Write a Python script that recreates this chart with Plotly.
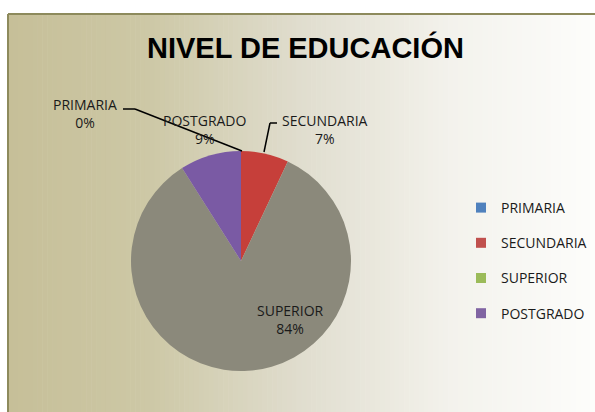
import plotly.graph_objects as go

W, H = 595, 412

# data
niveles = ["PRIMARIA", "SECUNDARIA", "SUPERIOR", "POSTGRADO"]
porcentajes = [0, 7, 84, 9]
colores_legenda = ["#4f81bd", "#c0504d", "#9bbb59", "#8064a2"]
colores_pie = ["#4f81bd", "#c63f3a", "#8b897b", "#7a5aa4"]


def px(x):
    return x / W


def py(y):
    return 1 - y / H


fig = go.Figure()

fig.add_trace(go.Pie(labels=niveles, values=porcentajes, sort=False,
                     direction="clockwise", rotation=0,
                     marker=dict(colors=colores_pie, line=dict(width=0)),
                     textinfo="none", showlegend=False, hoverinfo="label+percent",
                     domain=dict(x=[px(131), px(351)], y=[py(371), py(151)])))

# legend entries (square markers)
for i, (n, c) in enumerate(zip(niveles, colores_legenda)):
    fig.add_trace(go.Scatter(x=[None], y=[None], mode="markers", name=n,
                             legendgroup=n,
                             marker=dict(symbol="square", size=10, color=c)))

# background gradient, drawn as thin strips
stops = [(8, (198, 191, 152)), (150, (205, 200, 166)), (300, (224, 221, 206)),
         (450, (243, 242, 236)), (595, (253, 253, 251))]
shapes = []
n_strips = 120
x0 = 8
step = (W - x0) / n_strips
for k in range(n_strips):
    xa = x0 + k * step
    xm = xa + step / 2
    for (sa, ca), (sb, cb) in zip(stops[:-1], stops[1:]):
        if sa <= xm <= sb:
            t = (xm - sa) / (sb - sa)
            col = tuple(round(a + (b - a) * t) for a, b in zip(ca, cb))
            break
    shapes.append(dict(type="rect", xref="paper", yref="paper", layer="below",
                       x0=px(xa), x1=px(xa + step + 0.6), y0=0, y1=py(14),
                       line=dict(width=0), fillcolor="rgb(%d,%d,%d)" % col))
# frame
border = "#8d8a5c"
shapes.append(dict(type="line", xref="paper", yref="paper", x0=px(8), x1=1,
                   y0=py(14), y1=py(14), line=dict(color=border, width=2)))
shapes.append(dict(type="line", xref="paper", yref="paper", x0=px(8), x1=px(8),
                   y0=py(14), y1=0, line=dict(color=border, width=2)))

# leader lines
leaders = [
    [(123, 109), (135, 109), (242, 151)],
    [(277, 123), (270, 123), (264, 152)],
]
for pts in leaders:
    for (xa, ya), (xb, yb) in zip(pts[:-1], pts[1:]):
        shapes.append(dict(type="line", xref="paper", yref="paper",
                           x0=px(xa), y0=py(ya), x1=px(xb), y1=py(yb),
                           line=dict(color="black", width=1.5)))

# data labels
label_pos = [(85, 113), (325, 129), (290, 319), (205, 129)]
annotations = []
for n, v, (lx, ly) in zip(niveles, porcentajes, label_pos):
    annotations.append(dict(text=f"{n}<br>{v}%", x=px(lx), y=py(ly),
                            xref="paper", yref="paper", showarrow=False,
                            xanchor="center", yanchor="middle",
                            font=dict(family="Open Sans", size=14, color="#1a1a1a")))
annotations.append(dict(text="<b>NIVEL DE EDUCACIÓN</b>", x=px(306), y=py(48),
                        xref="paper", yref="paper", showarrow=False,
                        xanchor="center", yanchor="middle",
                        font=dict(family="Liberation Sans", size=29, color="black")))

fig.update_layout(width=W, height=H, margin=dict(l=0, r=0, t=0, b=0),
                  paper_bgcolor="white", plot_bgcolor="rgba(0,0,0,0)",
                  xaxis=dict(visible=False), yaxis=dict(visible=False),
                  shapes=shapes, annotations=annotations,
                  legend=dict(x=px(461), y=py(192), xanchor="left", yanchor="top",
                              bgcolor="rgba(0,0,0,0)", tracegroupgap=14,
                              itemwidth=30,
                              font=dict(family="Open Sans", size=14, color="#1a1a1a")))

fig.write_html("out.html", config={"displayModeBar": False},
               post_script="document.body.style.margin='0';")
